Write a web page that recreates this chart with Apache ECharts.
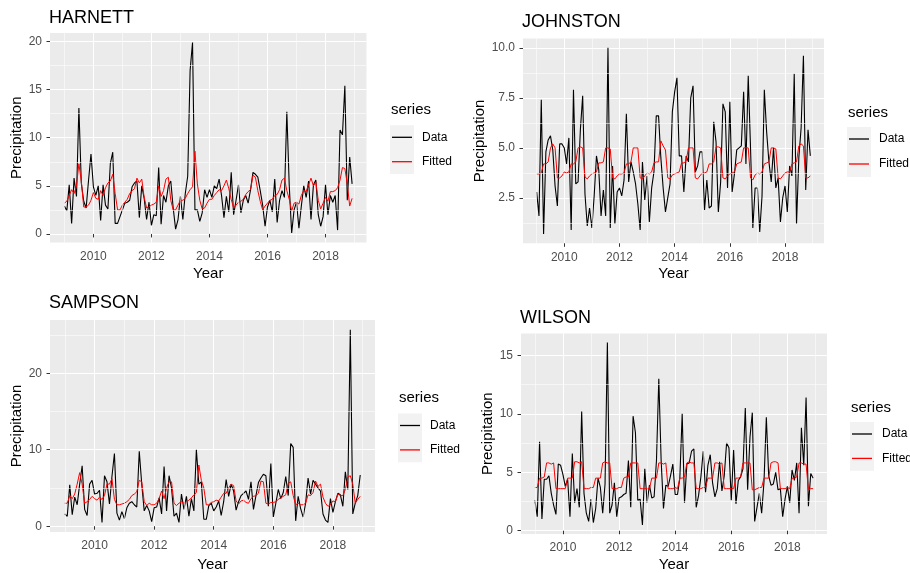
<!DOCTYPE html>
<html><head><meta charset="utf-8">
<script src="https://cdn.jsdelivr.net/npm/echarts@6/dist/echarts.min.js"></script>
<style>html,body{margin:0;padding:0;background:#fff}#c{width:910px;height:573px}</style>
</head><body><div id="c"></div>
<script>
// ---- Data: monthly precipitation, Jan 2009 .. Dec 2018 ----
const START_YEAR = 2009;
const xTickYears = [2010, 2012, 2014, 2016, 2018];
const xMinorYears = [2009, 2011, 2013, 2015, 2017, 2019];
const seriesNames = ['Data', 'Fitted'];
const countyNames = ['HARNETT', 'JOHNSTON', 'SAMPSON', 'WILSON'];

const harnettData = [
  2.9, 2.4, 5.1, 1.1, 5.8, 3.9, 13.1, 5.3, 3.4, 2.7, 5.6, 8.3,
  4.9, 4.0, 5.0, 1.4, 5.1, 3.0, 2.6, 7.3, 8.5, 1.1, 1.1, 1.8,
  2.5, 3.2, 3.3, 3.5, 4.9, 5.3, 5.5, 1.7, 5.0, 3.7, 1.5, 3.3,
  0.9, 2.0, 1.9, 6.9, 1.0, 4.0, 3.3, 5.0, 5.5, 2.7, 0.5, 1.5,
  3.9, 1.5, 4.2, 6.0, 17.0, 19.9, 2.5, 2.5, 1.3, 2.2, 4.6, 3.8,
  4.6, 3.8, 5.0, 4.7, 5.7, 4.0, 1.7, 3.9, 2.3, 6.4, 2.0, 3.5,
  5.1, 2.2, 3.5, 4.0, 3.2, 4.6, 6.4, 6.2, 5.9, 4.5, 3.0, 0.8,
  2.8, 3.5, 2.3, 5.7, 1.2, 3.5, 4.5, 3.8, 12.7, 5.0, 0.1, 2.5,
  3.3, 0.6, 2.9, 5.0, 3.8, 5.5, 1.5, 5.1, 5.6, 2.0, 0.8, 1.8,
  5.1, 2.0, 4.0, 3.3, 4.0, 0.4, 10.8, 10.3, 15.4, 3.5, 8.0, 5.2
];
const harnettFitted = [
  3.2, 3.4, 4.0, 4.6, 4.2, 5.0, 7.3, 5.5, 2.8, 2.8, 3.0, 3.5,
  4.3, 3.7, 3.6, 4.5, 4.0, 4.8, 5.3, 5.5, 6.2, 4.2, 2.5, 2.5,
  3.0, 3.3, 3.6, 4.2, 4.5, 4.7, 5.8, 5.3, 5.7, 3.8, 2.7, 2.8,
  3.0, 3.1, 3.3, 5.0, 3.9, 4.5, 5.7, 5.9, 3.5, 2.5, 2.5, 3.0,
  3.5, 3.5, 3.7, 4.2, 4.6, 4.9, 8.6, 5.2, 3.5, 2.6, 2.7, 3.2,
  3.6, 3.6, 4.0, 4.3, 4.6, 4.5, 5.0, 5.6, 4.7, 3.6, 2.7, 3.0,
  3.3, 3.4, 3.6, 4.1, 4.4, 4.6, 6.1, 5.9, 4.5, 3.4, 2.5, 2.9,
  3.2, 3.5, 3.6, 4.0, 4.1, 4.6, 5.6, 5.8, 4.5, 3.6, 2.4, 3.2,
  3.3, 3.1, 4.0, 4.5, 4.4, 5.1, 5.8, 5.0, 5.4, 3.5, 2.6, 3.2,
  3.8, 3.4, 4.4, 4.4, 4.5, 4.8, 5.6, 6.9, 6.8, 5.2, 2.9, 3.7
];
const johnstonData = [
  2.8, 1.6, 7.4, 0.7, 4.8, 5.4, 5.6, 4.9, 3.1, 2.1, 5.2, 5.2,
  5.0, 4.2, 5.5, 0.9, 7.9, 3.2, 3.3, 5.9, 7.6, 2.7, 1.1, 2.0,
  1.0, 2.6, 4.6, 3.9, 1.6, 2.9, 1.6, 10.0, 1.0, 4.1, 1.2, 2.8,
  3.0, 2.6, 3.4, 6.7, 3.3, 4.3, 3.8, 3.2, 2.2, 0.9, 4.3, 2.4,
  3.6, 1.3, 3.0, 3.8, 6.6, 6.6, 4.5, 3.0, 1.8, 2.5, 3.2, 6.8,
  7.8, 8.5, 4.6, 4.6, 2.8, 4.6, 4.3, 7.5, 8.1, 3.8, 4.1, 4.8,
  4.8, 1.9, 3.4, 2.0, 2.1, 6.3, 5.3, 1.8, 3.3, 7.2, 6.8, 3.0,
  7.3, 2.8, 3.7, 4.9, 5.0, 5.1, 7.8, 4.2, 8.6, 5.0, 1.0, 3.0,
  3.0, 0.8, 2.6, 7.9, 5.8, 4.3, 3.3, 5.0, 3.0, 3.5, 1.3, 2.5,
  3.1, 1.8, 4.1, 3.6, 8.7, 1.2, 4.5, 6.0, 9.6, 2.9, 5.9, 4.6
];
const johnstonFitted = [
  3.7, 3.7, 3.75, 4.2, 4.2, 4.3, 5.0, 5.2, 5.0, 3.5, 3.5, 3.6,
  3.8, 3.75, 3.8, 4.2, 4.2, 4.3, 5.0, 5.05, 5.0, 3.55, 3.45, 3.6,
  3.7, 3.75, 3.8, 4.25, 4.25, 4.3, 5.0, 5.0, 4.95, 3.5, 3.45, 3.6,
  3.7, 3.7, 3.75, 4.2, 4.2, 4.3, 5.0, 5.0, 5.0, 3.5, 3.45, 3.6,
  3.75, 3.7, 3.8, 4.25, 4.3, 4.3, 5.35, 5.1, 4.9, 3.5, 3.45, 3.65,
  3.7, 3.75, 3.8, 4.25, 4.25, 4.35, 5.0, 5.0, 5.0, 3.5, 3.45, 3.6,
  3.75, 3.75, 3.8, 4.2, 4.2, 4.3, 5.05, 5.05, 5.0, 3.5, 3.45, 3.6,
  3.7, 3.75, 3.8, 4.2, 4.25, 4.3, 5.0, 5.0, 5.0, 3.5, 3.4, 3.65,
  3.75, 3.7, 3.8, 4.2, 4.25, 4.3, 5.0, 5.0, 4.95, 3.5, 3.45, 3.6,
  3.75, 3.8, 3.8, 4.2, 4.25, 4.3, 5.1, 5.2, 5.1, 3.5, 3.5, 3.6
];
const sampsonData = [
  1.6, 1.3, 5.4, 1.5, 3.8, 2.8, 5.5, 7.9, 2.2, 1.4, 5.5, 6.0,
  4.2, 4.3, 4.7, 0.5, 6.6, 5.8, 2.9, 6.5, 9.5, 1.7, 0.8, 1.9,
  1.0, 2.4, 3.0, 3.2, 2.8, 2.5, 9.8, 5.5, 2.0, 2.7, 2.0, 0.6,
  2.4, 2.5, 3.7, 1.6, 7.8, 2.0, 6.6, 5.0, 1.3, 1.7, 0.5, 4.2,
  2.2, 3.9, 1.3, 3.6, 2.0, 10.0, 5.5, 5.8, 0.9, 0.9, 2.7, 3.0,
  2.0, 2.5, 3.3, 1.4, 3.2, 6.1, 3.9, 5.5, 4.6, 2.1, 3.2, 4.0,
  4.3, 4.6, 3.5, 5.8, 2.2, 4.0, 5.7, 6.3, 6.8, 6.6, 2.6, 8.2,
  1.2, 3.0, 4.8, 3.6, 4.4, 6.5, 4.0, 10.8, 10.3, 0.7, 3.9, 2.3,
  1.2, 3.0, 6.3, 4.2, 6.0, 5.5, 5.0, 4.6, 1.6, 0.8, 0.5, 3.6,
  1.8, 3.2, 4.3, 4.1, 2.6, 7.1, 4.8, 25.7, 1.6, 3.0, 4.0, 6.7
];
const sampsonFitted = [
  3.0, 3.0, 4.0, 3.6, 4.2, 5.5, 7.0, 5.5, 3.0, 3.2, 3.5, 3.9,
  3.6, 3.4, 3.8, 3.5, 4.0, 5.5, 5.5, 6.2, 3.5, 2.8, 2.8, 2.9,
  3.0, 3.2, 3.5, 4.0, 4.2, 4.5, 6.0, 5.8, 3.2, 2.7, 3.0, 2.8,
  2.8, 3.0, 3.6, 4.6, 3.6, 5.0, 5.8, 5.8, 3.0, 2.7, 3.0, 3.2,
  3.0, 3.2, 3.4, 3.7, 4.1, 4.4, 8.0, 6.0, 5.0, 2.8, 2.8, 3.1,
  3.2, 3.4, 3.3, 3.8, 4.3, 4.3, 5.0, 5.5, 5.3, 3.3, 2.9, 3.3,
  3.4, 3.1, 3.0, 3.6, 3.9, 4.0, 4.3, 5.9, 5.8, 3.0, 2.9, 3.1,
  3.1, 3.2, 3.5, 3.7, 3.9, 4.1, 5.6, 5.8, 4.0, 2.8, 3.0, 2.8,
  2.8, 3.0, 4.1, 4.0, 4.4, 5.9, 5.2, 5.5, 3.8, 3.0, 2.6, 2.8,
  3.3, 3.2, 4.2, 4.0, 4.0, 4.8, 6.4, 6.6, 5.5, 3.0, 3.5, 3.9
];
const wilsonData = [
  2.6, 1.2, 7.6, 1.0, 4.4, 4.4, 4.7, 3.2, 2.2, 1.4, 5.7, 5.6,
  4.8, 3.8, 4.4, 1.2, 6.6, 2.4, 3.6, 2.0, 10.2, 3.2, 1.5, 0.8,
  2.7, 0.7, 1.9, 4.5, 3.7, 1.5, 4.0, 16.1, 1.5, 2.2, 4.1, 1.2,
  2.8, 2.9, 3.1, 3.2, 6.0, 2.0, 9.8, 8.4, 2.6, 2.7, 0.5, 5.3,
  2.4, 3.9, 2.8, 2.9, 6.0, 13.0, 6.0, 1.9, 3.9, 3.8, 4.7, 5.7,
  3.1, 3.1, 4.5, 10.0, 2.4, 5.7, 5.8, 6.8, 7.0, 2.0, 3.0, 4.6,
  6.8, 3.3, 5.6, 6.5, 4.1, 2.9, 3.6, 5.9, 3.4, 4.7, 7.5, 7.1,
  2.6, 6.9, 2.3, 4.3, 4.6, 5.3, 10.5, 3.5, 8.0, 10.1, 0.8, 2.0,
  3.2, 1.5, 4.2, 9.7, 4.7, 3.9, 4.0, 5.0, 3.5, 3.6, 1.2, 2.7,
  3.8, 2.4, 5.2, 4.3, 5.8, 1.5, 8.8, 5.6, 11.4, 2.1, 4.9, 4.5
];
const wilsonFitted = [
  3.7, 3.7, 4.5, 4.5, 4.6, 5.8, 5.8, 5.7, 5.8, 3.6, 3.6, 3.6,
  3.6, 3.6, 4.5, 4.5, 4.5, 5.9, 5.9, 5.8, 5.9, 3.6, 3.6, 3.6,
  3.7, 3.7, 4.5, 4.5, 4.5, 5.8, 5.9, 5.8, 5.8, 3.6, 3.6, 3.6,
  3.7, 3.7, 4.5, 4.6, 4.6, 5.8, 5.8, 5.8, 5.8, 3.6, 3.6, 3.6,
  3.6, 3.6, 4.5, 4.5, 4.5, 5.8, 5.8, 5.7, 5.8, 3.6, 3.6, 3.6,
  3.7, 3.6, 4.5, 4.5, 4.6, 5.8, 5.9, 5.8, 5.8, 3.6, 3.6, 3.6,
  3.7, 3.7, 4.5, 4.5, 4.5, 5.8, 5.8, 5.7, 5.8, 3.6, 3.6, 3.6,
  3.6, 3.6, 4.5, 4.5, 4.6, 5.8, 5.8, 5.8, 5.8, 3.5, 3.5, 3.6,
  3.7, 3.7, 4.5, 4.5, 4.5, 5.8, 5.9, 5.9, 5.8, 3.6, 3.6, 3.6,
  3.7, 3.6, 4.5, 4.5, 4.6, 5.8, 5.8, 5.7, 5.7, 3.5, 3.6, 3.6
];
const harnettYTicks = [0, 5, 10, 15, 20];
const harnettYMinor = [2.5, 7.5, 12.5, 17.5];
const johnstonYTicks = [2.5, 5.0, 7.5, 10.0];
const johnstonYMinor = [1.25, 3.75, 6.25, 8.75];
const sampsonYTicks = [0, 10, 20];
const sampsonYMinor = [5, 15, 25];
const wilsonYTicks = [0, 5, 10, 15];
const wilsonYMinor = [2.5, 7.5, 12.5];

// ---- Layout ----
const FONT = '"Liberation Sans", Arial, sans-serif';
const panels = [
  { name: countyNames[0], data: harnettData, fitted: harnettFitted, yt: harnettYTicks, ym: harnettYMinor, dec: 0,
    grid: { left: 50, top: 33, width: 316.5, height: 209.5 }, titleTop: 9.5, yGap: 23, xGap: 24,
    legend: { x: 392, seriesY: 111, lineY: 137.3, step: 24.4 } },
  { name: countyNames[1], data: johnstonData, fitted: johnstonFitted, yt: johnstonYTicks, ym: johnstonYMinor, dec: 1,
    grid: { left: 523, top: 38.5, width: 301, height: 204.8 }, titleTop: 13.5, yGap: 30, xGap: 23,
    legend: { x: 849, seriesY: 114, lineY: 139, step: 25 } },
  { name: countyNames[2], data: sampsonData, fitted: sampsonFitted, yt: sampsonYTicks, ym: sampsonYMinor, dec: 0,
    grid: { left: 50, top: 320, width: 325, height: 212.5 }, titleTop: 294.5, yGap: 23, xGap: 25,
    legend: { x: 400, seriesY: 399, lineY: 425.5, step: 24.4 } },
  { name: countyNames[3], data: wilsonData, fitted: wilsonFitted, yt: wilsonYTicks, ym: wilsonYMinor, dec: 0,
    grid: { left: 521, top: 333.4, width: 306, height: 203.2 }, titleTop: 309.5, yGap: 23, xGap: 23,
    legend: { x: 852, seriesY: 409, lineY: 434, step: 24.4 } }
];

function toXY(arr) { return arr.map((v, i) => [START_YEAR + i / 12, v]); }
function padRange(lo, hi) { const p = (hi - lo) * 0.05; return [lo - p, hi + p]; }
const xRange = padRange(START_YEAR, START_YEAR + (harnettData.length - 1) / 12);

const option = { animation: false, title: [], grid: [], xAxis: [], yAxis: [], series: [], legend: [], graphic: [] };

panels.forEach((p, k) => {
  const all = p.data.concat(p.fitted);
  const yRange = padRange(Math.min.apply(null, all), Math.max.apply(null, all));
  option.title.push({ text: p.name, left: p.grid.left - 1, top: p.titleTop, padding: 0,
    textStyle: { fontFamily: FONT, fontSize: 18, fontWeight: 'normal', color: '#000' } });
  option.title.push({ text: 'series', left: p.legend.x - 1, top: p.legend.seriesY - 8.5, padding: 0,
    textStyle: { fontFamily: FONT, fontSize: 15, fontWeight: 'normal', color: '#000' } });
  option.grid.push(Object.assign({ show: true, backgroundColor: '#EBEBEB', borderWidth: 0 }, p.grid));
  option.xAxis.push({
    type: 'value', gridIndex: k, min: xRange[0], max: xRange[1],
    name: 'Year', nameLocation: 'middle', nameGap: p.xGap,
    nameTextStyle: { fontFamily: FONT, fontSize: 15, color: '#000' },
    axisLine: { show: false },
    axisTick: { show: true, length: 3.5, customValues: xTickYears, lineStyle: { color: '#333', width: 1 } },
    axisLabel: { customValues: xTickYears, margin: 8, fontFamily: FONT, fontSize: 12, color: '#4D4D4D', formatter: v => String(v) },
    splitLine: { show: true, lineStyle: { color: '#FFFFFF', width: 1.1 } }
  });
  option.yAxis.push({
    type: 'value', gridIndex: k, min: yRange[0], max: yRange[1],
    name: 'Precipitation', nameLocation: 'middle', nameGap: p.yGap,
    nameTextStyle: { fontFamily: FONT, fontSize: 15, color: '#000' },
    axisLine: { show: false },
    axisTick: { show: true, length: 3.5, customValues: p.yt, lineStyle: { color: '#333', width: 1 } },
    axisLabel: { customValues: p.yt, margin: 8, fontFamily: FONT, fontSize: 12, color: '#4D4D4D',
      formatter: v => Number(v).toFixed(p.dec) },
    splitLine: { show: true, lineStyle: { color: '#FFFFFF', width: 1.1 } }
  });
  // minor grid lines
  option.series.push({
    type: 'line', name: 'minor' + k, xAxisIndex: k, yAxisIndex: k, data: [], z: 1, silent: true,
    markLine: { silent: true, symbol: 'none', animation: false, label: { show: false },
      lineStyle: { color: '#FFFFFF', width: 0.55, type: 'solid' },
      emphasis: { disabled: true },
      data: xMinorYears.map(v => ({ xAxis: v })).concat(p.ym.map(v => ({ yAxis: v }))) }
  });
  option.series.push({
    type: 'line', name: seriesNames[0], xAxisIndex: k, yAxisIndex: k, data: toXY(p.data),
    showSymbol: false, symbol: 'none', color: '#000000', lineStyle: { color: '#000000', width: 1.1 }, z: 3, silent: true
  });
  option.series.push({
    type: 'line', name: seriesNames[1], xAxisIndex: k, yAxisIndex: k, data: toXY(p.fitted),
    showSymbol: false, symbol: 'none', color: '#FF0000', lineStyle: { color: '#FF0000', width: 1 }, z: 4, silent: true
  });
  // legend key background
  option.graphic.push({ type: 'rect', left: p.legend.x - 2, top: p.legend.lineY - 12, z: 0,
    shape: { width: 24, height: p.legend.step * 2 }, style: { fill: '#F2F2F2' } });
  option.legend.push({
    orient: 'vertical', left: p.legend.x, top: p.legend.lineY - 7, padding: 0,
    data: seriesNames, icon: 'rect', itemWidth: 20, itemHeight: 1.3, itemGap: p.legend.step - 14,
    selectedMode: false,
    textStyle: { fontFamily: FONT, fontSize: 12, color: '#000', lineHeight: 14, padding: [0, 0, 0, 5] }
  });
});

const chart = echarts.init(document.getElementById('c'), null, { renderer: 'canvas' });
chart.setOption(option);
</script>
</body></html>
